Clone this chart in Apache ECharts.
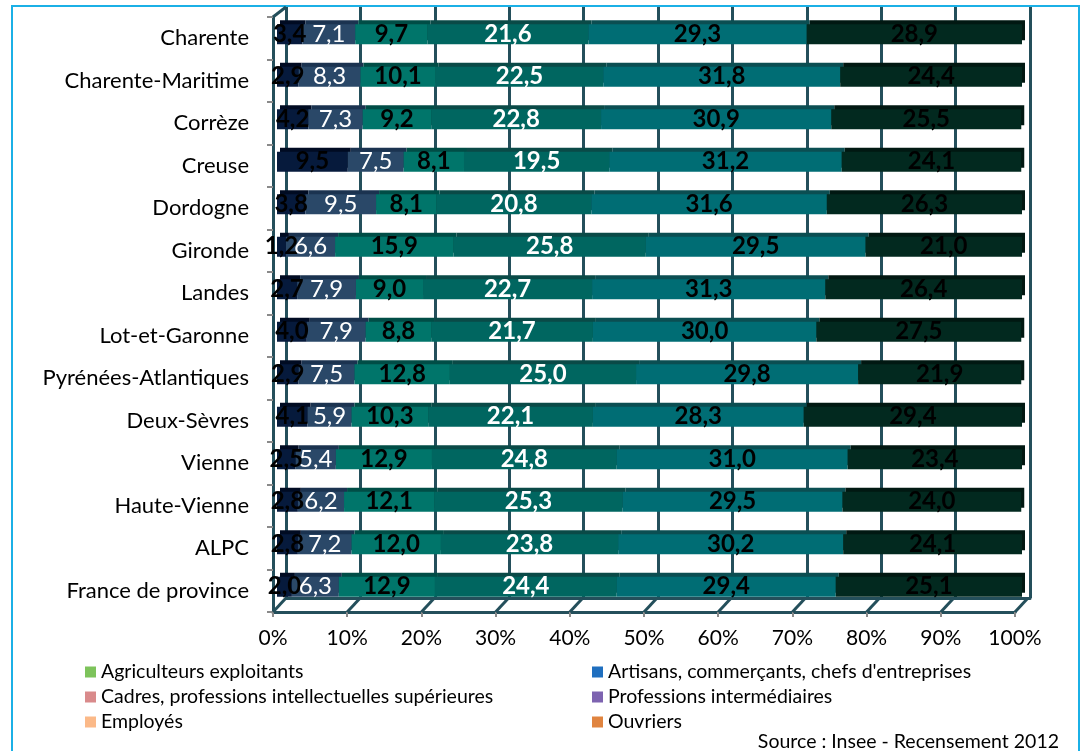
<!DOCTYPE html>
<html><head><meta charset="utf-8">
<script src="https://cdn.jsdelivr.net/npm/echarts@6/dist/echarts.min.js"></script>
<style>html,body{margin:0;padding:0;background:#fff}#c{width:1088px;height:751px}</style>
</head><body><div id="c"></div>
<script>
const categories = ["Charente","Charente-Maritime","Corrèze","Creuse","Dordogne","Gironde","Landes","Lot-et-Garonne","Pyrénées-Atlantiques","Deux-Sèvres","Vienne","Haute-Vienne","ALPC","France de province"];
const seriesNames = ["Agriculteurs exploitants","Artisans, commerçants, chefs d'entreprises","Cadres, professions intellectuelles supérieures","Professions intermédiaires","Employés","Ouvriers"];
const agriculteurs = [3.4,2.9,4.2,9.5,3.8,1.2,2.7,4.0,2.9,4.1,2.5,2.8,2.8,2.0];
const artisans     = [7.1,8.3,7.3,7.5,9.5,6.6,7.9,7.9,7.5,5.9,5.4,6.2,7.2,6.3];
const cadres       = [9.7,10.1,9.2,8.1,8.1,15.9,9.0,8.8,12.8,10.3,12.9,12.1,12.0,12.9];
const intermed     = [21.6,22.5,22.8,19.5,20.8,25.8,22.7,21.7,25.0,22.1,24.8,25.3,23.8,24.4];
const employes     = [29.3,31.8,30.9,31.2,31.6,29.5,31.3,30.0,29.8,28.3,31.0,29.5,30.2,29.4];
const ouvriers     = [28.9,24.4,25.5,24.1,26.3,21.0,26.4,27.5,21.9,29.4,23.4,24.0,24.1,25.1];
const xTicks = [0,10,20,30,40,50,60,70,80,90,100];

const values = [agriculteurs, artisans, cadres, intermed, employes, ouvriers];
const barColors = ['#061a3c','#2a4868','#00756a','#006660','#006d74','#02291f'];
const topColors = ['#000b22','#1b3350','#004d46','#0a4a47','#0b4e52','#011812'];
const labelColors = ['#000','#fff','#000','#fff','#000','#000'];
const labelWeights = ['bold','normal','bold','bold','bold','bold'];
const legendColors = ['#7dc35b','#1f6fbf','#d98a8b','#7d63b0','#fbb988','#e0843f'];
const FONT = 'Lato';
const gridColor = '#244f5b';

const chart = echarts.init(document.getElementById('c'), null, {renderer:'canvas'});

const barSeries = seriesNames.map((n,i)=>({
  name:n, type:'bar', stack:'s', xAxisIndex:2, yAxisIndex:2, barWidth:20,
  data: values[i],
  itemStyle:{color:barColors[i], shadowColor:topColors[i], shadowOffsetX:3, shadowOffsetY:-4, shadowBlur:0},
  label:{show:true, position:'inside', color:labelColors[i], fontWeight:labelWeights[i], fontSize:24, fontFamily:FONT,
    formatter:p=>p.value.toFixed(1).replace('.',',')},
  z:3
}));

const floorSeries = {
  type:'custom', xAxisIndex:1, yAxisIndex:1, silent:true, z:1,
  data: xTicks.map(v=>[v]),
  renderItem:(params, api)=>{
    const cs = params.coordSys;
    const x = api.coord([api.value(0), 0])[0];
    const yb = cs.y + cs.height;
    const children = [{type:'line', shape:{x1:x, y1:yb, x2:x+13, y2:yb-14}, style:{stroke:gridColor, lineWidth:3}}];
    if (api.value(0) === 0) {
      children.push({type:'line', shape:{x1:x, y1:cs.y, x2:x+13, y2:cs.y-10}, style:{stroke:gridColor, lineWidth:3}});
    }
    return {type:'group', children};
  }
};

function legendData(idx){ return idx.map(i=>({name:seriesNames[i], itemStyle:{color:legendColors[i]}})); }

chart.setOption({
  animation:false,
  textStyle:{fontFamily:FONT},
  title:{text:'Source : Insee - Recensement 2012', right:24, top:727, textStyle:{fontSize:19.5, fontWeight:'normal', color:'#000', fontFamily:FONT}},
  legend:[
    {left:80, top:657, orient:'vertical', itemWidth:11, itemHeight:11, itemGap:5, icon:'rect', selectedMode:false,
     textStyle:{fontSize:19.5, color:'#000', fontFamily:FONT}, data:legendData([0,2,4])},
    {left:587, top:657, orient:'vertical', itemWidth:11, itemHeight:11, itemGap:5, icon:'rect', selectedMode:false,
     textStyle:{fontSize:19.5, color:'#000', fontFamily:FONT}, data:legendData([1,3,5])}
  ],
  grid:[
    {left:286, right:58, top:7, bottom:153},
    {left:273, right:73, top:17, bottom:139},
    {left:277, right:66, top:13, bottom:143}
  ],
  xAxis:[
    {gridIndex:0, type:'value', min:0, max:100, interval:10, axisLabel:{show:false}, axisTick:{show:false},
     axisLine:{show:true, lineStyle:{color:gridColor, width:3}},
     splitLine:{show:true, lineStyle:{color:gridColor, width:3}}},
    {gridIndex:1, type:'value', min:0, max:100, interval:10,
     axisLabel:{formatter:'{value}%', color:'#000', fontSize:21, fontFamily:FONT, margin:16},
     axisTick:{show:true, length:5, lineStyle:{color:'#8a8a8a', width:2}},
     axisLine:{show:true, lineStyle:{color:gridColor, width:3}}, splitLine:{show:false}},
    {gridIndex:2, type:'value', min:0, max:100, show:false}
  ],
  yAxis:[
    {gridIndex:0, type:'category', data:categories, inverse:true, show:false},
    {gridIndex:1, type:'category', data:categories, inverse:true,
     axisLabel:{color:'#000', fontSize:22, fontFamily:FONT, margin:24},
     axisTick:{show:true, length:6, lineStyle:{color:'#8a8a8a', width:2}},
     axisLine:{show:true, lineStyle:{color:gridColor, width:3}}},
    {gridIndex:2, type:'category', data:categories, inverse:true, show:false}
  ],
  graphic:[{type:'rect', shape:{x:12, y:6, width:1067, height:760}, style:{fill:'none', stroke:'#1bb0e6', lineWidth:2}, silent:true, z:0}],
  series:[floorSeries, ...barSeries]
});
</script></body></html>
